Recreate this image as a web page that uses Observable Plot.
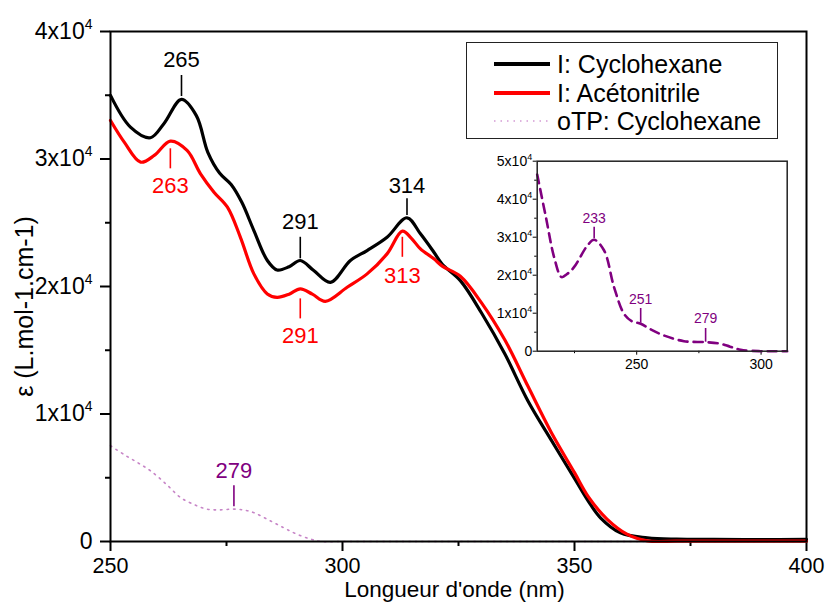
<!DOCTYPE html>
<html><head><meta charset="utf-8">
<script src="https://cdn.jsdelivr.net/npm/d3@7"></script>
<script src="https://cdn.jsdelivr.net/npm/@observablehq/plot@0.6"></script>
<style>
html,body{margin:0;padding:0;background:#fff;}
#wrap{position:relative;width:829px;height:602px;font-family:"Liberation Sans",Arial,sans-serif;overflow:hidden;}
#main,#inset,#legend{position:absolute;}
#main{left:0;top:0}
#inset{left:476px;top:140px}
#legend{left:466px;top:42px;width:312px;height:97px;border:1.3px solid #222;box-sizing:border-box;background:#fff;}
.row{position:absolute;left:0;height:28px;width:305px}
.row svg{position:absolute;left:27px;top:11px}
.row span{position:absolute;left:90px;top:0;font-size:25px;line-height:28px;color:#000;white-space:nowrap}
</style></head>
<body>
<div id="wrap">
  <div id="main"></div>
  <div id="inset"></div>
  <div id="legend"></div>
</div>
<script>
// ---- data: I in cyclohexane ----
const wlCyc = [250, 254.3, 258.6, 261.5, 265.3, 268.5, 271, 273.5, 276, 278.3, 280.9, 283.8, 285.9, 288.5, 290.9, 293.8, 297.4, 301.7, 305.3, 309.6, 313.9, 316.8, 319.7, 321.5, 325.4, 330, 335, 340, 345, 350, 353, 355.6, 359.9, 365.7, 372, 380, 390, 400];
const epsCyc = [34990, 32500, 31670, 32770, 34670, 33400, 30500, 28900, 28000, 26600, 24390, 22040, 21300, 21550, 22040, 21250, 20330, 22040, 22820, 23860, 25390, 24130, 22690, 21750, 20460, 17900, 14700, 11000, 7950, 4950, 3150, 1860, 680, 290, 180, 160, 150, 160];
// ---- data: I in acetonitrile ----
const wlAce = [250, 253, 256.5, 259.5, 262.9, 266.5, 269.4, 272.3, 275.2, 278, 280.9, 283.8, 285.9, 288.5, 290.9, 293.5, 296.3, 301, 305.3, 309.6, 312.9, 314.8, 316.8, 319.7, 321.5, 325.4, 330, 335, 340, 345, 350, 353, 357, 361.3, 365.7, 372, 380, 390, 400];
const epsAce = [33020, 31300, 29750, 30300, 31400, 30670, 28840, 27400, 26220, 23860, 20990, 19420, 19150, 19400, 19810, 19400, 18840, 19940, 20990, 22560, 24340, 23800, 22950, 22170, 21600, 20800, 18700, 15800, 12150, 8550, 5400, 3500, 1760, 580, 50, 30, 30, 30, 30];
// ---- data: oTP in cyclohexane (main panel) ----
const wlOtp = [250, 253, 256, 258.6, 262, 265.1, 268, 270.8, 273.5, 276.6, 279, 281, 284, 287.2, 290, 293.1, 295.5, 300, 350, 400];
const epsOtp = [7510, 6800, 6150, 5550, 4500, 3450, 2900, 2540, 2480, 2540, 2450, 2250, 1700, 1100, 600, 190, 0, 0, 0, 0];
// ---- data: oTP inset ----
const wlInset = [210, 213.5, 216.8, 219.8, 222, 224.8, 230.2, 232.9, 236.9, 240.9, 244.9, 248, 251.6, 256, 261, 269, 277.7, 283.7, 287.5, 291.8, 299.8, 305, 310.5];
const epsInset = [46500, 35270, 24740, 19500, 20300, 22110, 27820, 29320, 26500, 16840, 9840, 7900, 7210, 5600, 4130, 2630, 2370, 1950, 1200, 370, 0, 0, 0];

// ---- ticks ----
const xMajor = [250, 300, 350, 400];
const xMinor = [275, 325, 375];
const yMajor = [0, 10000, 20000, 30000, 40000];
const yMinor = [5000, 15000, 25000, 35000];
const insetXMajor = [250, 300];
const insetXMinor = [225, 275];
const insetYMajor = [0, 10000, 20000, 30000, 40000, 50000];
const insetYMinor = [5000, 15000, 25000, 35000, 45000];

// ---- peak annotations (main) ----
const annoSeries = ["cyc", "ace", "cyc", "cyc", "ace", "ace", "otp"];
const annoText = ["265", "263", "291", "314", "291", "313", "279"];
const annoX = [265.3, 262.9, 290.9, 313.9, 290.9, 312.9, 276.6];
const annoTickFrom = [34900, 30800, 22170, 25570, 19030, 23860, 2720];
const annoTickTo = [36550, 29230, 23860, 26880, 17460, 22290, 4370];
const annoLabelY = [37740, 27920, 25040, 27920, 16150, 20860, 5550];
// ---- peak annotations (inset) ----
const insetAnnoText = ["233", "251", "279"];
const insetAnnoX = [232.9, 251.6, 277.7];
const insetAnnoTickFrom = [29580, 7370, 2370];
const insetAnnoTickTo = [32640, 11240, 5970];
const insetAnnoLabelY = [34930, 13610, 8610];

// ---- legend ----
const legendLabels = ["I: Cyclohexane", "I: Acétonitrile", "oTP: Cyclohexane"];
const legendKeys = ["cyc", "ace", "otp"];

const colors = {cyc: "#000000", ace: "#ff0000", otp: "#800080"};
const zip = (xs, ys) => xs.map((x, i) => ({x, y: ys[i]}));
const cyc = zip(wlCyc, epsCyc), ace = zip(wlAce, epsAce), otp = zip(wlOtp, epsOtp), ins = zip(wlInset, epsInset);
const annos = annoText.map((t, i) => ({t, s: annoSeries[i], x: annoX[i], y1: annoTickFrom[i], y2: annoTickTo[i], ly: annoLabelY[i]}));
const insetAnnos = insetAnnoText.map((t, i) => ({t, x: insetAnnoX[i], y1: insetAnnoTickFrom[i], y2: insetAnnoTickTo[i], ly: insetAnnoLabelY[i]}));
const fmtSci = v => v === 0 ? "0" : `${v / 1e4}x10^4`;
const FONT = "Liberation Sans, Arial, sans-serif";

function annoMarks(data, fontSize) {
  const out = [];
  for (const k of ["cyc", "ace", "otp"]) {
    const d = data.filter(a => (a.s || "otp") === k);
    if (!d.length) continue;
    out.push(Plot.ruleX(d, {x: "x", y1: "y1", y2: "y2", stroke: colors[k], strokeWidth: 1.6}));
    out.push(Plot.text(d, {x: "x", y: "ly", text: "t", fill: colors[k], fontSize, textAnchor: "middle", lineAnchor: "middle"}));
  }
  return out;
}

const main = Plot.plot({
  width: 829, height: 602,
  marginLeft: 110, marginRight: 23, marginTop: 31, marginBottom: 61,
  x: {domain: [250, 400], label: null},
  y: {domain: [0, 40000], label: null},
  style: {fontFamily: FONT, fontSize: "22px", color: "#000", background: "transparent", overflow: "visible"},
  marks: [
    Plot.axisY({ticks: yMajor, tickSize: 10, tickPadding: 8, tickFormat: fmtSci, strokeWidth: 2, fontSize: 23, label: null}),
    Plot.axisY({ticks: yMinor, tickSize: 5, tickFormat: () => "", strokeWidth: 2, label: null}),
    Plot.axisX({ticks: xMajor, tickSize: 10, tickPadding: 6, tickFormat: d => String(d), strokeWidth: 2, fontSize: 21.5, label: null}),
    Plot.axisX({ticks: xMinor, tickSize: 5, tickFormat: () => "", strokeWidth: 2, label: null}),
    Plot.line(otp, {x: "x", y: "y", stroke: "#c785c7", strokeWidth: 1.6, strokeDasharray: "1.5,5", curve: "catmull-rom"}),
    Plot.line(cyc, {x: "x", y: "y", stroke: colors.cyc, strokeWidth: 3.2, curve: "catmull-rom"}),
    Plot.line(ace, {x: "x", y: "y", stroke: colors.ace, strokeWidth: 3.2, curve: "catmull-rom"}),
    ...annoMarks(annos, 22),
    Plot.frame({stroke: "#000", strokeWidth: 2}),
    Plot.text(["Longueur d'onde (nm)"], {text: d => d, frameAnchor: "bottom", dy: 40, lineAnchor: "top", textAnchor: "middle", fontSize: 22.5, dx: -4}),
    Plot.text(["ε (L.mol-1.cm-1)"], {text: d => d, frameAnchor: "left", rotate: -90, dx: -86, dy: 20, textAnchor: "middle", lineAnchor: "middle", fontSize: 25})
  ]
});

const inset = Plot.plot({
  width: 320, height: 240,
  marginLeft: 60.7, marginRight: 9.3, marginTop: 20.7, marginBottom: 29.3,
  x: {domain: [210, 310.5], label: null},
  y: {domain: [0, 50000], label: null},
  style: {fontFamily: FONT, fontSize: "14px", color: "#000", background: "transparent", overflow: "visible"},
  marks: [
    Plot.axisY({ticks: insetYMajor, tickSize: 4, tickPadding: 1, tickFormat: fmtSci, fontSize: 14, label: null}),
    Plot.axisY({ticks: insetYMinor, tickSize: 2.5, tickFormat: () => "", label: null}),
    Plot.axisX({ticks: insetXMajor, tickSize: 4, tickPadding: 4, tickFormat: d => String(d), fontSize: 14, label: null}),
    Plot.axisX({ticks: insetXMinor, tickSize: 2.5, tickFormat: () => "", label: null}),
    Plot.line(ins, {x: "x", y: "y", stroke: colors.otp, strokeWidth: 2.6, strokeDasharray: "9,6", curve: "catmull-rom"}),
    ...annoMarks(insetAnnos, 14),
    Plot.frame({stroke: "#222", strokeWidth: 1.5})
  ]
});

const NS = "http://www.w3.org/2000/svg";
function supify(svg, shift, size) {
  svg.querySelectorAll("text").forEach(t => {
    const s = t.textContent;
    if (!s.includes("^")) return;
    const [base, exp] = s.split("^");
    t.textContent = "";
    const a = document.createElementNS(NS, "tspan"); a.textContent = base;
    const b = document.createElementNS(NS, "tspan"); b.textContent = exp;
    b.setAttribute("dy", shift); b.setAttribute("font-size", size);
    t.append(a, b);
  });
}
supify(main, "-10", "14");
supify(inset, "-6", "9");
document.getElementById("main").append(main);
document.getElementById("inset").append(inset);

// legend
const leg = document.getElementById("legend");
const tops = [7, 35.5, 64];
legendKeys.forEach((k, i) => {
  const row = document.createElement("div");
  row.className = "row"; row.style.top = tops[i] + "px";
  const sw = k === "otp"
    ? `<line x1="0" y1="3" x2="56" y2="3" stroke="#d49ad4" stroke-width="1.6" stroke-dasharray="1.5,5"/>`
    : `<line x1="0" y1="3" x2="56" y2="3" stroke="${colors[k]}" stroke-width="4"/>`;
  row.innerHTML = `<svg width="56" height="6">${sw}</svg><span>${legendLabels[i]}</span>`;
  leg.append(row);
});
</script>
</body></html>
